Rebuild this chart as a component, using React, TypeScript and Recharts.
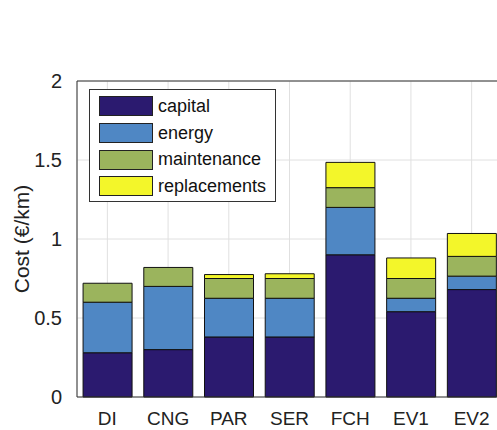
import React from 'react';
import { BarChart, Bar, XAxis, YAxis, CartesianGrid, ReferenceLine } from 'recharts';

const categories = ['DI', 'CNG', 'PAR', 'SER', 'FCH', 'EV1', 'EV2'];
const capital = [0.28, 0.3, 0.38, 0.38, 0.9, 0.54, 0.68];
const energy = [0.32, 0.4, 0.245, 0.245, 0.3, 0.085, 0.085];
const maintenance = [0.12, 0.12, 0.125, 0.125, 0.125, 0.125, 0.125];
const replacements = [0, 0, 0.025, 0.03, 0.16, 0.13, 0.145];
const yTicks = [0, 0.5, 1, 1.5, 2];

const series = [
  { key: 'capital', color: '#2b1a6f' },
  { key: 'energy', color: '#4f87c4' },
  { key: 'maintenance', color: '#9bb45d' },
  { key: 'replacements', color: '#f3f62a' },
];

const data = categories.map((name, i) => ({
  name,
  capital: capital[i],
  energy: energy[i],
  maintenance: maintenance[i],
  replacements: replacements[i],
}));

const font = '"Liberation Sans", Arial, sans-serif';

// legend drawn as an overlay so it doesn't eat into the plot area
const LegendBox = () => (
  <div
    style={{
      position: 'absolute',
      left: 89,
      top: 89,
      width: 187,
      height: 113,
      border: '1px solid #333',
      background: '#fff',
      fontFamily: font,
      fontSize: 18,
      color: '#111',
      boxSizing: 'border-box',
      paddingTop: 3,
    }}
  >
    {series.map((s) => (
      <div key={s.key} style={{ display: 'flex', alignItems: 'center', height: 26.7 }}>
        <div
          style={{
            width: 54,
            height: 20,
            marginLeft: 9,
            marginRight: 5,
            flexShrink: 0,
            background: s.color,
            border: '1px solid #222',
            boxSizing: 'border-box',
          }}
        />
        <span style={{ whiteSpace: 'nowrap' }}>{s.key}</span>
      </div>
    ))}
  </div>
);

export default function App() {
  return (
    <div style={{ position: 'absolute', left: 0, top: 0, width: 497, height: 430, overflow: 'hidden', background: '#fff' }}>
      <BarChart
        width={510}
        height={432}
        data={data}
        margin={{ top: 81, right: 8, left: 0, bottom: 0 }}
        barCategoryGap="10%"
      >
        <CartesianGrid stroke="#e0e0e0" strokeWidth={1} />
        <XAxis
          dataKey="name"
          height={35}
          tickLine={false}
          axisLine={{ stroke: '#333' }}
          tick={{ fill: '#222', fontSize: 19, fontFamily: font }}
          tickMargin={9}
          interval={0}
        />
        <YAxis
          width={77}
          domain={[0, 2]}
          ticks={yTicks}
          tickLine={false}
          axisLine={{ stroke: '#333' }}
          tick={{ fill: '#222', fontSize: 20, fontFamily: font }}
          tickMargin={9}
          label={{
            value: 'Cost (€/km)',
            angle: -90,
            position: 'insideLeft',
            offset: 22,
            style: { textAnchor: 'middle', fill: '#222', fontSize: 21, fontFamily: font },
          }}
        />
        <ReferenceLine y={2} stroke="#333" />
        {series.map((s) => (
          <Bar
            key={s.key}
            dataKey={s.key}
            stackId="a"
            fill={s.color}
            stroke="#111"
            strokeWidth={1}
            isAnimationActive={false}
          />
        ))}
      </BarChart>
      <LegendBox />
    </div>
  );
}
